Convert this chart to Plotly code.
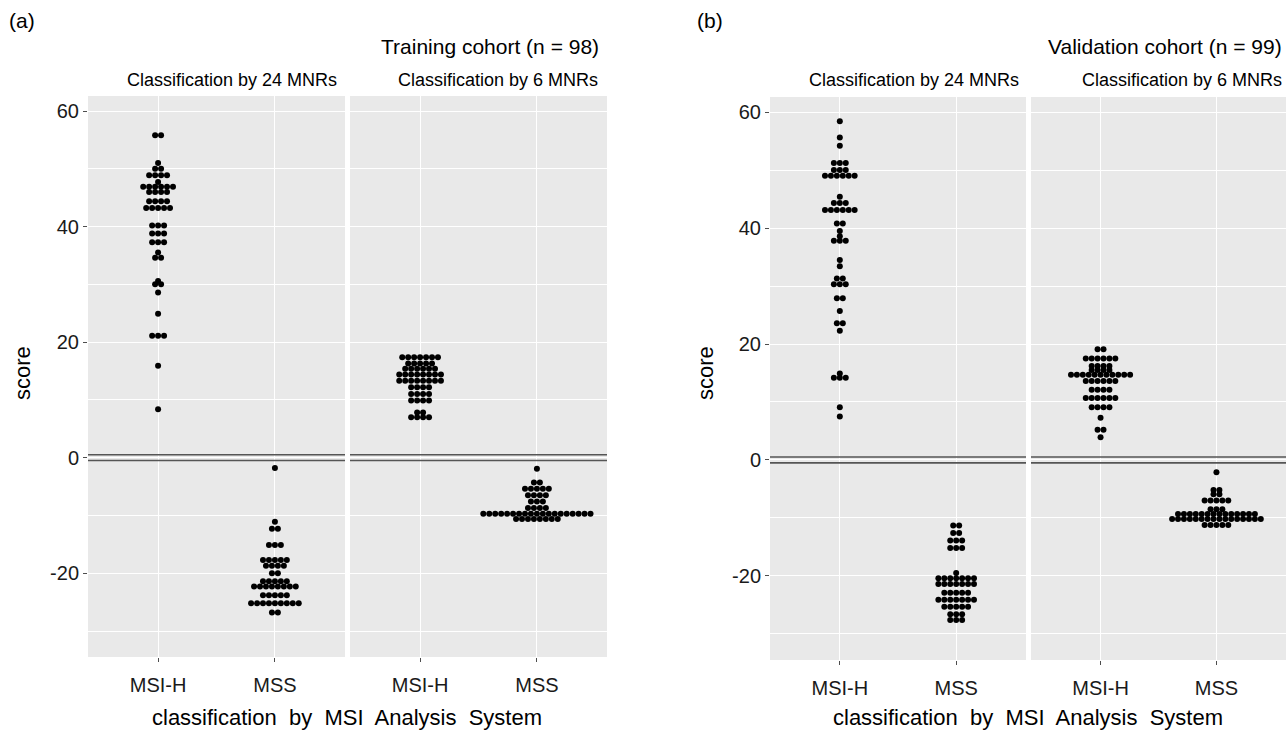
import plotly.graph_objects as go

# ---------------- data (score value of each dot) ----------------
categories = ["MSI-H", "MSS"]

def expand(rows):
    out = []
    for v, n in rows:
        out += [v] * n
    return out

# Training cohort (n = 98)
train_24_msih = expand([(55.8, 2), (51.0, 1), (50.0, 2), (48.9, 4), (47.7, 1), (46.9, 6), (46.0, 4),
                        (44.4, 4), (43.2, 5), (40.2, 3), (38.8, 3), (37.3, 3), (35.5, 1), (34.6, 2),
                        (30.6, 1), (30.0, 2), (28.6, 1), (24.9, 1), (21.1, 3), (15.9, 1), (8.4, 1)])
train_24_mss = expand([(-1.8, 1), (-11.1, 1), (-12.3, 2), (-15.1, 3), (-17.7, 5), (-18.7, 4), (-20.0, 2),
                       (-21.4, 5), (-22.3, 8), (-23.8, 5), (-25.2, 9), (-26.8, 2)])
train_6_msih = expand([(17.4, 7), (16.3, 5), (15.4, 6), (14.4, 8), (13.3, 8), (12.2, 4), (11.0, 4),
                       (9.9, 4), (7.8, 2), (7.0, 4)])
train_6_mss = expand([(-1.9, 1), (-4.3, 2), (-5.4, 5), (-6.5, 4), (-7.6, 3), (-8.7, 4), (-9.7, 19),
                      (-10.6, 8)])

# Validation cohort (n = 99)
valid_24_msih = expand([(58.4, 1), (55.6, 1), (54.2, 1), (51.2, 3), (50.0, 3), (49.0, 6), (45.4, 1),
                        (44.3, 3), (43.1, 6), (40.8, 2), (39.5, 1), (38.6, 1), (37.8, 3), (34.5, 1),
                        (33.4, 1), (31.3, 2), (30.3, 3), (27.9, 2), (25.7, 1), (23.6, 2), (22.3, 1),
                        (14.9, 1), (14.2, 3), (9.1, 1), (7.5, 1)])
valid_24_mss = expand([(-11.3, 2), (-12.6, 2), (-13.9, 3), (-15.2, 3), (-19.5, 1), (-20.4, 7), (-21.4, 7),
                       (-22.9, 5), (-24.1, 7), (-25.3, 5), (-26.6, 3), (-27.6, 3)])
valid_6_msih = expand([(19.1, 2), (17.5, 6), (16.2, 4), (15.5, 4), (14.7, 11), (13.6, 6), (12.1, 4),
                       (10.7, 6), (9.1, 4), (7.3, 1), (5.2, 2), (3.9, 1)])
valid_6_mss = expand([(-2.1, 1), (-5.2, 2), (-5.9, 2), (-7.0, 5), (-8.5, 3), (-9.3, 14), (-10.2, 16),
                      (-11.2, 5)])

y_ticks = [-20, 0, 20, 40, 60]
y_ticktext = ["-20", "0", "20", "40", "60"]
y_minor = [-30, -10, 10, 30, 50]

# ---------------- helpers ----------------
STEP = 0.051  # horizontal spacing of stacked dots, in category units

def stack(values, cat_index):
    groups = {}
    for v in values:
        groups[v] = groups.get(v, 0) + 1
    xs, ys = [], []
    for v, n in groups.items():
        for i in range(n):
            xs.append(cat_index + (i - (n - 1) / 2) * STEP)
            ys.append(v)
    return xs, ys

W, H = 1286, 731
def px(x):
    return x / W
def py(y):
    return (H - y) / H

fig = go.Figure()

panels = [
    ("x", "y", train_24_msih, train_24_mss),
    ("x2", "y", train_6_msih, train_6_mss),
    ("x3", "y2", valid_24_msih, valid_24_mss),
    ("x4", "y2", valid_6_msih, valid_6_mss),
]
for xa, ya, msih, mss in panels:
    for idx, vals in enumerate([msih, mss], start=1):
        xs, ys = stack(vals, idx)
        fig.add_trace(go.Scatter(x=xs, y=ys, mode="markers", xaxis=xa, yaxis=ya,
                                 marker=dict(color="black", size=6, line=dict(width=0)),
                                 showlegend=False, hoverinfo="y"))

FONT = "Liberation Sans, Arial, sans-serif"
tickfont = dict(family=FONT, size=20, color="#1a1a1a")

xcommon = dict(range=[0.4, 2.6], tickvals=[1, 2], ticktext=categories, showgrid=True,
               gridcolor="white", gridwidth=1.2, zeroline=False, ticks="outside", ticklen=4,
               tickcolor="#4d4d4d", tickfont=tickfont, ticklabelstandoff=6, showline=False, fixedrange=True)
ycommon = dict(range=[-34.5, 62.6], tickvals=y_ticks, ticktext=y_ticktext, showgrid=True,
               gridcolor="white", gridwidth=1.2,
               zeroline=False, ticks="outside", ticklen=4, tickcolor="#4d4d4d", tickfont=tickfont,
               minor=dict(tickvals=y_minor, showgrid=True, gridcolor="white", gridwidth=0.6, ticks=""),
               showline=False)

fig.update_layout(
    width=W, height=H, margin=dict(l=0, r=0, t=0, b=0),
    paper_bgcolor="white", plot_bgcolor="#E9E9E9", showlegend=False,
    xaxis=dict(domain=[px(88), px(345)], anchor="y", **xcommon),
    xaxis2=dict(domain=[px(350), px(607)], anchor="y", **xcommon),
    xaxis3=dict(domain=[px(770), px(1026)], anchor="y2", **xcommon),
    xaxis4=dict(domain=[px(1031), 1.0], anchor="y2", **xcommon),
    yaxis=dict(domain=[py(657), py(96)], anchor="x", **ycommon),
    yaxis2=dict(domain=[py(660), py(97)], anchor="x3", **ycommon),
)

# double reference lines around zero
for xa, ya in [("x", "y"), ("x2", "y"), ("x3", "y2"), ("x4", "y2")]:
    for yv in (0.5, -0.5):
        fig.add_shape(type="line", xref=f"{xa} domain", yref=ya, x0=0, x1=1, y0=yv, y1=yv,
                      line=dict(color="#555555", width=1.6))

def ann(text, x, y, size, xanchor="center", angle=0):
    fig.add_annotation(text=text, x=px(x), y=py(y), xref="paper", yref="paper",
                       xanchor=xanchor, yanchor="middle", showarrow=False, textangle=angle,
                       font=dict(family=FONT, size=size, color="black"))

# panel (a)
ann("(a)", 7, 20, 21, "left")
ann("Training cohort (n = 98)", 601, 47, 21, "right")
ann("Classification by 24 MNRs", 339, 80, 18, "right")
ann("Classification by 6 MNRs", 600, 80, 18, "right")
ann("score", 22, 373, 22, angle=-90)
ann("classification  by  MSI  Analysis  System", 347, 717, 22)

# panel (b)
ann("(b)", 695, 20, 21, "left")
ann("Validation cohort (n = 99)", 1284, 47, 21, "right")
ann("Classification by 24 MNRs", 1021, 80, 18, "right")
ann("Classification by 6 MNRs", 1284, 80, 18, "right")
ann("score", 705, 373, 22, angle=-90)
ann("classification  by  MSI  Analysis  System", 1028, 717, 22)

fig.write_html("out.html")
